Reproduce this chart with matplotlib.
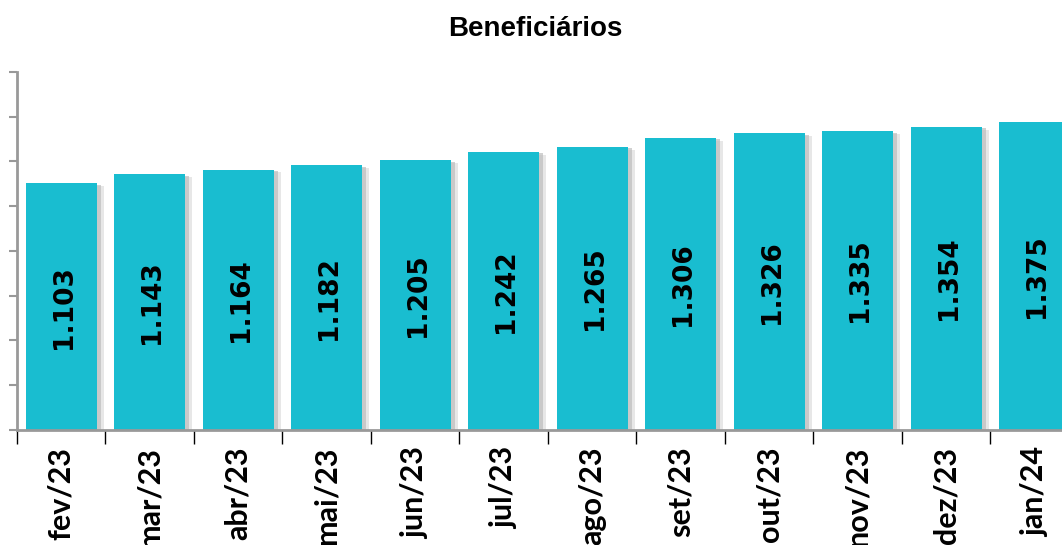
import matplotlib.pyplot as plt
import matplotlib.patheffects as pe

meses = ['fev/23', 'mar/23', 'abr/23', 'mai/23', 'jun/23', 'jul/23',
         'ago/23', 'set/23', 'out/23', 'nov/23', 'dez/23', 'jan/24']
valores = [1103, 1143, 1164, 1182, 1205, 1242, 1265, 1306, 1326, 1335, 1354, 1375]
rotulos = ['1.103', '1.143', '1.164', '1.182', '1.205', '1.242',
           '1.265', '1.306', '1.326', '1.335', '1.354', '1.375']

fig = plt.figure(figsize=(10.62, 5.45), dpi=100)
ax = fig.add_axes([0.016, 0.211, 1.0, 0.657])

x = list(range(len(meses)))
barras = ax.bar(x, valores, width=0.8, color='#19BDD0', zorder=2)
for b in barras:
    b.set_path_effects([pe.SimplePatchShadow(offset=(3, -1), shadow_rgbFace='#999999', alpha=0.45),
                        pe.SimplePatchShadow(offset=(5, -2), shadow_rgbFace='#bbbbbb', alpha=0.35),
                        pe.Normal()])

# rótulos no meio das barras
for xi, v, r in zip(x, valores, rotulos):
    ax.text(xi + 0.03, v / 2, r, rotation=90, ha='center', va='center',
            fontsize=19, fontweight='bold', family='DejaVu Sans', color='black', zorder=3)

ax.set_xlim(-0.5, len(meses) - 0.5)
ax.set_ylim(0, 1600)
ax.set_yticks(range(0, 1601, 200))
ax.set_yticklabels([])
ax.tick_params(axis='y', direction='out', length=6, width=1.5, color='#999999')

ax.set_xticks(x)
ax.set_xticklabels(meses, rotation=90, fontsize=22, fontweight='bold', family='Lato')
ax.tick_params(axis='x', which='major', length=0, pad=12)
ax.set_xticks([i - 0.5 for i in range(len(meses) + 1)], minor=True)
ax.tick_params(axis='x', which='minor', direction='out', length=10, width=1, color='black')

for s in ['top', 'right']:
    ax.spines[s].set_visible(False)
ax.spines['left'].set_color('#999999')
ax.spines['left'].set_linewidth(2)
ax.spines['bottom'].set_color('#999999')
ax.spines['bottom'].set_linewidth(2)

fig.text(0.504, 0.946, 'Beneficiários', ha='center', va='center',
         fontsize=20, fontweight='bold', family='Liberation Sans')

plt.savefig('out.png', dpi=100)
